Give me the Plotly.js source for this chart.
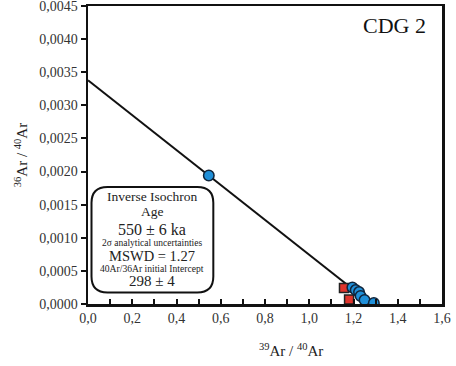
<!DOCTYPE html>
<html><head><meta charset="utf-8">
<script src="https://cdn.plot.ly/plotly-3.0.1.min.js"></script>
<style>html,body{margin:0;padding:0;background:#fff}#chart{width:456px;height:366px}</style>
</head><body><div id="chart"></div>
<script>
// Data
const blueX = [0.546, 1.195, 1.21, 1.225, 1.232, 1.25, 1.292];
const blueY = [0.00194, 0.00025, 0.00021, 0.00018, 0.00012, 0.00006, 0.000015];
const redX = [1.157, 1.18];
const redY = [0.000243, 0.000068];
const lineX = [0, 1.282];
const lineY = [0.00338, 0];
const xTicks = [0, 0.2, 0.4, 0.6, 0.8, 1.0, 1.2, 1.4, 1.6];
const yTicks = [0, 0.0005, 0.0010, 0.0015, 0.0020, 0.0025, 0.0030, 0.0035, 0.0040, 0.0045];
const boxLines = [
  ["Inverse Isochron", 13.5],
  ["Age", 13.5],
  ["550 ± 6 ka", 16],
  ["2σ analytical uncertainties", 9.5],
  ["MSWD = 1.27", 14.5],
  ["40Ar/36Ar initial Intercept", 9.6],
  ["298 ± 4", 15]
];
const sampleLabel = "CDG 2";

const serif = "'Liberation Serif', 'DejaVu Serif', serif";
const W = 456, H = 366;
const m = {l: 87.5, r: 14, t: 5.5, b: 61.5};
const pw = W - m.l - m.r, ph = H - m.t - m.b;
const xr = [0, 1.6], yr = [0, 0.0045];
const px2x = p => xr[0] + (p - m.l) / pw * (xr[1] - xr[0]);
const py2y = p => yr[0] + (H - m.b - p) / ph * (yr[1] - yr[0]);

// rounded box (pixel geometry -> data)
const bx0 = 91, bx1 = 213, by0 = 187, by1 = 293, rad = 16;
function rr() {
  const X = px2x, Y = py2y;
  return `M ${X(bx0+rad)} ${Y(by0)} L ${X(bx1-rad)} ${Y(by0)} Q ${X(bx1)} ${Y(by0)} ${X(bx1)} ${Y(by0+rad)} ` +
    `L ${X(bx1)} ${Y(by1-rad)} Q ${X(bx1)} ${Y(by1)} ${X(bx1-rad)} ${Y(by1)} ` +
    `L ${X(bx0+rad)} ${Y(by1)} Q ${X(bx0)} ${Y(by1)} ${X(bx0)} ${Y(by1-rad)} ` +
    `L ${X(bx0)} ${Y(by0+rad)} Q ${X(bx0)} ${Y(by0)} ${X(bx0+rad)} ${Y(by0)} Z`;
}
const lineYs = [197, 212, 230, 243.5, 256.5, 269, 281.5];
const annotations = boxLines.map((b, i) => ({
  x: px2x((bx0 + bx1) / 2), y: py2y(lineYs[i]), xref: 'x', yref: 'y',
  text: b[0], showarrow: false, font: {family: serif, size: b[1], color: '#222'},
  xanchor: 'center', yanchor: 'middle'
}));
annotations.push({x: px2x(428), y: py2y(25), xref: 'x', yref: 'y', text: sampleLabel,
  showarrow: false, xanchor: 'right', yanchor: 'middle', font: {family: serif, size: 22, color: '#111'}});
annotations.push({x: px2x(291), y: 0, xref: 'x', yref: 'paper', yshift: -46,
  text: "<sup>39</sup>Ar / <sup>40</sup>Ar", showarrow: false, xanchor: 'center', yanchor: 'middle',
  font: {family: serif, size: 15, color: '#222'}});

const traces = [
  {x: lineX, y: lineY, mode: 'lines', line: {color: '#111', width: 2}, hoverinfo: 'skip'},
  {x: redX, y: redY, mode: 'markers', marker: {symbol: 'square', size: 9, color: '#e0342c', line: {color: '#222', width: 1.5}}},
  {x: blueX, y: blueY, mode: 'markers', marker: {symbol: 'circle', size: 10.5, color: '#1f8fd8', line: {color: '#10243a', width: 1.5}}}
];

const layout = {
  width: W, height: H, margin: m, showlegend: false,
  paper_bgcolor: '#fff', plot_bgcolor: '#fff',
  separators: ', ',
  font: {family: serif, color: '#222'},
  xaxis: {range: [xr[0], xr[1] + 1e-9], tickvals: xTicks, tickformat: '.1f', ticks: 'inside', ticklen: 5, tickwidth: 2,
    tickcolor: '#111', showgrid: false, zeroline: false, showline: true, linecolor: '#111', linewidth: 2.5,
    mirror: true, tickfont: {family: serif, size: 14, color: '#333'}, ticklabeloverflow: 'allow',
    minor: {dtick: 0.1, ticks: 'inside', ticklen: 5, tickwidth: 2, tickcolor: '#111', showgrid: false}},
  yaxis: {range: [yr[0], yr[1] + 1e-12], tickvals: yTicks, tickformat: '.4f', ticks: 'outside', ticklen: 5, tickwidth: 2,
    tickcolor: '#111', showgrid: false, zeroline: false, showline: true, linecolor: '#111', linewidth: 2.5,
    mirror: true, tickfont: {family: serif, size: 14, color: '#333'}, ticklabeloverflow: 'allow',
    title: {text: "<sup>36</sup>Ar / <sup>40</sup>Ar", font: {family: serif, size: 15, color: '#222'}, standoff: 8}},
  shapes: [{type: 'path', xref: 'x', yref: 'y', path: rr(), line: {color: '#111', width: 2}, fillcolor: '#fff', layer: 'above'}],
  annotations: annotations
};
Plotly.newPlot('chart', traces, layout, {staticPlot: true});
</script></body></html>
